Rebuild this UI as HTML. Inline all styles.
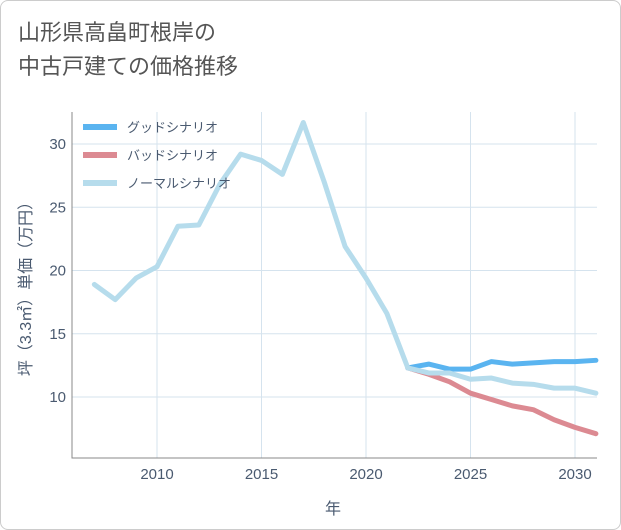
<!DOCTYPE html>
<html><head><meta charset="utf-8"><style>
body{margin:0;background:#fff;}
#wrap{position:relative;width:621px;height:530px;font-family:"Liberation Sans","Noto Sans CJK JP",sans-serif;}
#frame{position:absolute;left:0;top:0;width:619px;height:528px;border:1px solid #ccc;border-radius:8px;}
#title{position:absolute;left:18px;top:16px;font-size:22px;line-height:34px;color:#555;}
</style></head><body>
<div id="wrap">
<div id="frame"></div>
<div id="title">山形県高畠町根岸の<br>中古戸建ての価格推移</div>
<svg id="chart" width="621" height="530" style="position:absolute;left:0;top:0"></svg>
</div>
<script>
const years=[2007,2008,2009,2010,2011,2012,2013,2014,2015,2016,2017,2018,2019,2020,2021,2022,2023,2024,2025,2026,2027,2028,2029,2030,2031];
const normal=[18.9,17.7,19.4,20.3,23.5,23.6,26.8,29.2,28.7,27.6,31.7,27.0,21.9,19.4,16.6,12.3,11.9,11.9,11.4,11.5,11.1,11.0,10.7,10.7,10.3];
const goodYears=[2022,2023,2024,2025,2026,2027,2028,2029,2030,2031];
const good=[12.3,12.6,12.2,12.2,12.8,12.6,12.7,12.8,12.8,12.9];
const bad=[12.3,11.8,11.2,10.3,9.8,9.3,9.0,8.2,7.6,7.1];
const xTicks=[2010,2015,2020,2025,2030];
const yTicks=[10,15,20,25,30];
const NS='http://www.w3.org/2000/svg';
const svg=document.getElementById('chart');
const L=72,R=597,T=112,B=458;
const x=v=>157+(v-2010)*20.9;
const y=v=>397-(v-10)*12.65;
function el(t,a){const e=document.createElementNS(NS,t);for(const k in a)e.setAttribute(k,a[k]);svg.appendChild(e);return e;}
for(const t of xTicks){const g=el('line',{x1:x(t),x2:x(t),y1:T,y2:B,stroke:'#d5e3ee','stroke-width':1});


const l=el('text',{x:x(t),y:479,'text-anchor':'middle','font-size':15,fill:'#4a5a70'});l.textContent=t;

}
for(const t of yTicks){const g=el('line',{x1:L,x2:R,y1:y(t),y2:y(t),stroke:'#d5e3ee','stroke-width':1});


const l=el('text',{x:66,y:y(t)+5,'text-anchor':'end','font-size':15,fill:'#4a5a70'});l.textContent=t;

}
const ax=el('path',{d:`M${L} ${T}V${B}H${R}`,stroke:'#888',fill:'none','stroke-width':1});


function line(xs,vs,c,name){const p=el('polyline',{points:xs.map((v,i)=>x(v)+','+y(vs[i])).join(' '),fill:'none',stroke:c,'stroke-width':5,'stroke-linejoin':'round','stroke-linecap':'round'});

}
line(goodYears,bad,'#dc8a92','bad-scenario-line');
line(goodYears,good,'#5ab4f0','good-scenario-line');
line(years,normal,'#b6dcec','normal-scenario-line');
const leg=[['グッドシナリオ','#5ab4f0'],['バッドシナリオ','#dc8a92'],['ノーマルシナリオ','#b6dcec']];
leg.forEach((d,i)=>{const yy=127+i*28;
const s=el('line',{x1:83,x2:117,y1:yy,y2:yy,stroke:d[1],'stroke-width':6});


const t=el('text',{x:127,y:yy+5,'font-size':13,fill:'#4a5a70'});t.textContent=d[0];

});
const xt=el('text',{x:333,y:514,'text-anchor':'middle','font-size':16,fill:'#4a5a70'});xt.textContent='年';


const yt=el('text',{x:0,y:0,'text-anchor':'middle','font-size':16,fill:'#4a5a70',transform:'translate(31,285) rotate(-90)'});yt.textContent='坪（3.3㎡）単価（万円）';


</script>
</body></html>
